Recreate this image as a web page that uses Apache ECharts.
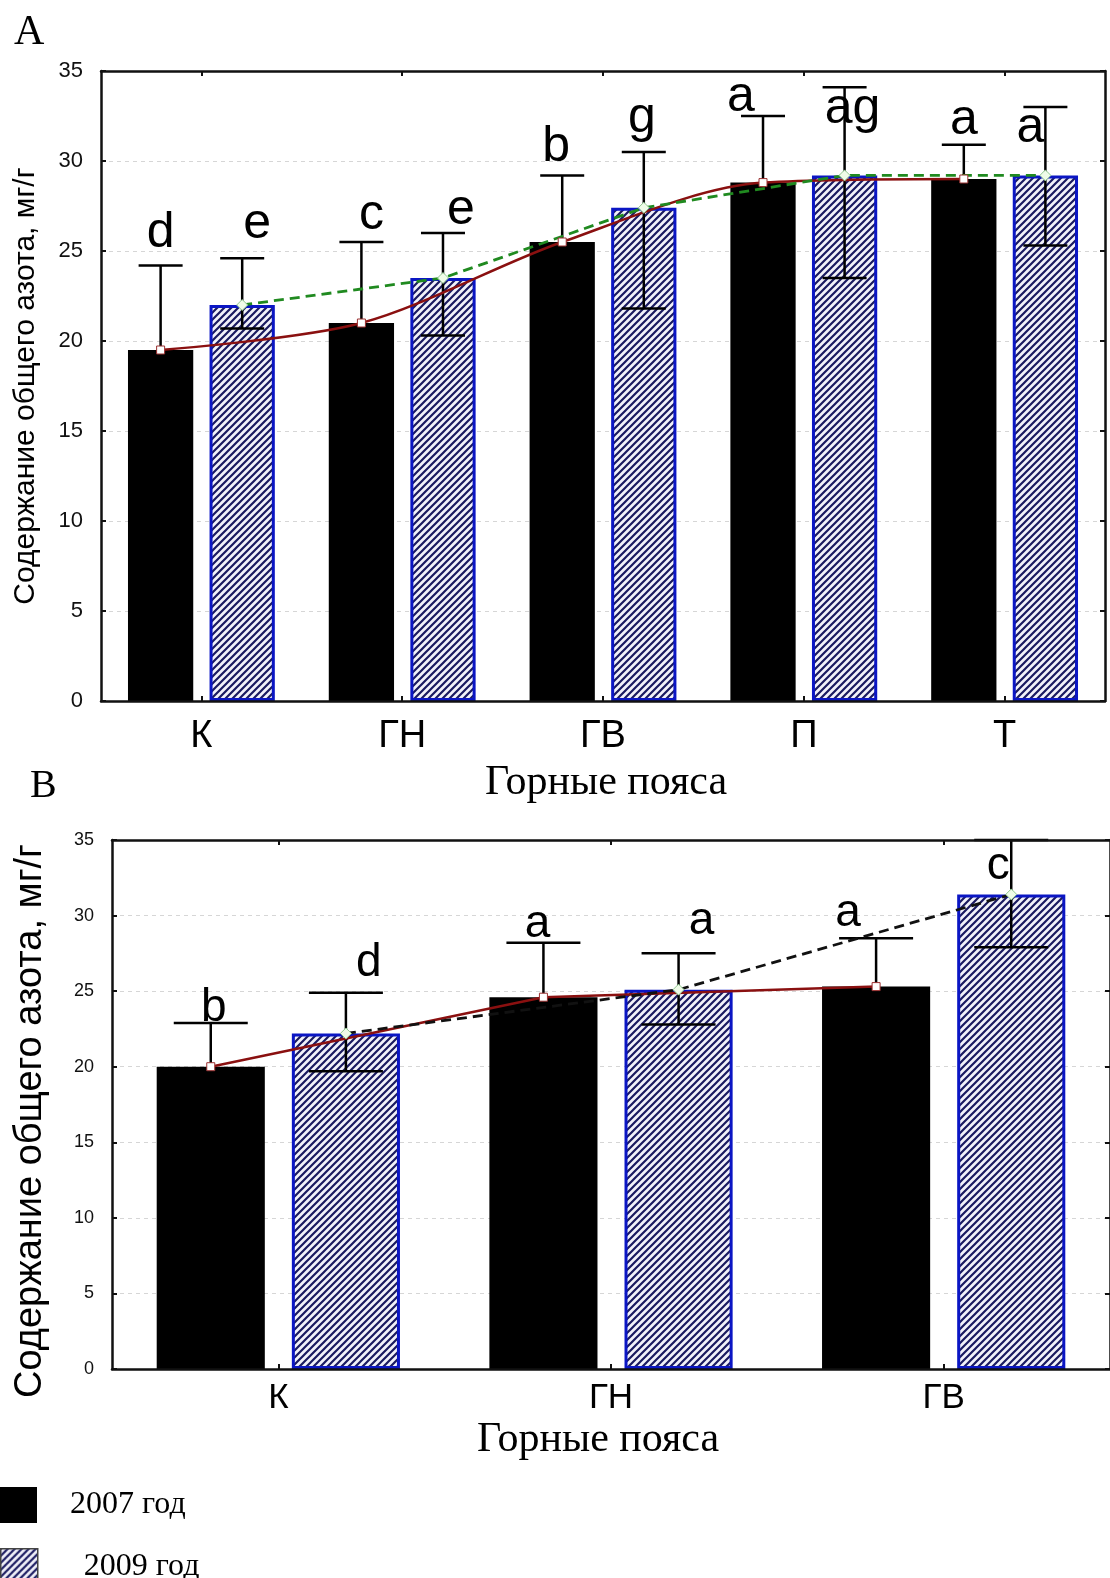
<!DOCTYPE html>
<html>
<head>
<meta charset="utf-8">
<script src="https://cdn.jsdelivr.net/npm/echarts@6/dist/echarts.min.js"></script>
<style>
  html, body { margin: 0; padding: 0; background: #fff; }
  #chart { width: 1110px; height: 1578px; }
</style>
</head>
<body>
<div id="chart"></div>
<script>
// ---- Panel A: five mountain belts ----
const beltsA = ['К', 'ГН', 'ГВ', 'П', 'Т'];
const meanA2007 = [19.5, 21.0, 25.5, 28.8, 29.0];
const upA2007   = [24.2, 25.5, 29.2, 32.5, 30.9];
const meanA2009 = [22.0, 23.5, 27.4, 29.2, 29.2];
const upA2009   = [24.6, 26.0, 30.5, 34.1, 33.0];
const lowA2009  = [20.7, 20.3, 21.8, 23.5, 25.3];
const lettersA2007 = ['d', 'c', 'b', 'a', 'a'];
const lettersA2009 = ['e', 'e', 'g', 'ag', 'a'];

// ---- Panel B: three mountain belts ----
const beltsB = ['К', 'ГН', 'ГВ'];
const meanB2007 = [20.0, 24.6, 25.3];
const upB2007   = [22.9, 28.2, 28.5];
const meanB2009 = [22.2, 25.1, 31.4];
const upB2009   = [24.9, 27.5, 35.0];
const lowB2009  = [19.7, 22.8, 27.9];
const lettersB2007 = ['b', 'a', 'a'];
const lettersB2009 = ['d', 'a', 'c'];

const yTicks = [0, 5, 10, 15, 20, 25, 30, 35];

// ---- layout / styling ----
const BAR_W = 0.325, BAR_GAP = 0.25;
const OFF = (BAR_W + BAR_W * BAR_GAP) / 2;   // bar-centre offset inside a band
// letter placement: [dx px from bar centre, px above the upper cap]
const letterShiftA7 = [[0, 17], [10, 12], [-6, 13], [-22, 4], [0, 10]];
const letterShiftA9 = [[15, 19], [18, 8], [-2, 19], [8, -37], [-15, -36]];
const letterShiftB7 = [[3, 1], [-6, 5], [-28, 11]];
const letterShiftB9 = [[23, 16], [23, 18], [-13, -40]];

function hatchPattern() {
  const s = 7;
  const c = document.createElement('canvas');
  c.width = s; c.height = s;
  const g = c.getContext('2d');
  g.fillStyle = '#f2f2fa';
  g.fillRect(0, 0, s, s);
  g.strokeStyle = '#1a1a60';
  g.lineWidth = 2.2;
  g.beginPath();
  g.moveTo(-1, s + 1); g.lineTo(s + 1, -1);
  g.moveTo(-s / 2 - 1, s / 2 + 1); g.lineTo(s / 2 + 1, -s / 2 - 1);
  g.moveTo(s / 2 - 1, s * 1.5 + 1); g.lineTo(s * 1.5 + 1, s / 2 - 1);
  g.stroke();
  return c;
}
const HATCH = { image: hatchPattern(), repeat: 'repeat' };

const grids = [
  { left: 101, top: 71, width: 1004, height: 630 },
  { left: 112, top: 840, width: 1005, height: 529 }
];

const panels = [
  {
    belts: beltsA, m7: meanA2007, u7: upA2007, m9: meanA2009, u9: upA2009, l9: lowA2009,
    t7: lettersA2007, t9: lettersA2009, s7: letterShiftA7, s9: letterShiftA9,
    tickFont: 22, catFont: 38, catMargin: 17, letterFont: 50, cap: 22,
    dashColor: '#208a20', smooth: 0.3
  },
  {
    belts: beltsB, m7: meanB2007, u7: upB2007, m9: meanB2009, u9: upB2009, l9: lowB2009,
    t7: lettersB2007, t9: lettersB2009, s7: letterShiftB7, s9: letterShiftB9,
    tickFont: 18, catFont: 35, catMargin: 12, letterFont: 46, cap: 37,
    dashColor: '#111', smooth: false
  }
];

const xAxes = [], yAxes = [], series = [];
const frameLine = { show: true, onZero: false, lineStyle: { color: '#111', width: 2.5 } };
const innerTick = { show: true, inside: true, length: 5, lineStyle: { color: '#111', width: 2 } };

panels.forEach((p, gi) => {
  const n = p.belts.length;
  const xb = xAxes.length;
  xAxes.push(
    { gridIndex: gi, type: 'category', data: p.belts, position: 'bottom', z: 10,
      axisLine: frameLine, axisTick: Object.assign({ alignWithLabel: true }, innerTick),
      axisLabel: { fontFamily: 'Liberation Sans', fontSize: p.catFont, color: '#000', margin: p.catMargin },
      splitLine: { show: false } },
    { gridIndex: gi, type: 'category', data: p.belts, position: 'top', z: 10,
      axisLine: frameLine, axisTick: Object.assign({ alignWithLabel: true }, innerTick),
      axisLabel: { show: false }, splitLine: { show: false } },
    { gridIndex: gi, type: 'value', min: -0.5, max: n - 0.5, show: false }
  );
  const yb = yAxes.length;
  const yScale = { min: yTicks[0], max: yTicks[yTicks.length - 1], interval: yTicks[1] - yTicks[0] };
  yAxes.push(
    Object.assign({ gridIndex: gi, type: 'value', position: 'left',
      axisLine: frameLine, axisTick: innerTick,
      axisLabel: { fontFamily: 'Liberation Sans', fontSize: p.tickFont, color: '#111', margin: 18 },
      splitLine: { show: true, lineStyle: { color: '#d6d6d6', type: [4, 4], width: 1 } } }, yScale),
    Object.assign({ gridIndex: gi, type: 'value', position: 'right', z: 10,
      axisLine: frameLine, axisTick: innerTick,
      axisLabel: { show: false }, splitLine: { show: false } }, yScale)
  );

  // bars
  series.push(
    { name: '2007 год', type: 'bar', xAxisIndex: xb, yAxisIndex: yb, data: p.m7,
      barWidth: (BAR_W * 100) + '%', barGap: (BAR_GAP * 100) + '%',
      itemStyle: { color: '#000' }, z: 2 },
    { name: '2009 год', type: 'bar', xAxisIndex: xb, yAxisIndex: yb, data: p.m9,
      barWidth: (BAR_W * 100) + '%', barGap: (BAR_GAP * 100) + '%',
      itemStyle: { color: HATCH, borderColor: '#0b16c4', borderWidth: 3 }, z: 2 }
  );

  // error bars
  const errItem = (withLow) => function (params, api) {
    const x = api.value(0);
    const hi = api.coord([x, api.value(1)]);
    const lo = api.coord([x, api.value(2)]);
    const st = { stroke: '#000', lineWidth: 2.5 };
    const kids = [
      { type: 'line', shape: { x1: hi[0], y1: hi[1], x2: lo[0], y2: lo[1] }, style: st },
      { type: 'line', shape: { x1: hi[0] - p.cap, y1: hi[1], x2: hi[0] + p.cap, y2: hi[1] }, style: st }
    ];
    if (withLow) kids.push({ type: 'line', shape: { x1: lo[0] - p.cap, y1: lo[1], x2: lo[0] + p.cap, y2: lo[1] }, style: st });
    return { type: 'group', children: kids };
  };
  series.push(
    { type: 'custom', xAxisIndex: xb + 2, yAxisIndex: yb, z: 3, silent: true, clip: false,
      renderItem: errItem(false), data: p.m7.map((v, i) => [i - OFF, p.u7[i], v]) },
    { type: 'custom', xAxisIndex: xb + 2, yAxisIndex: yb, z: 3, silent: true, clip: false,
      renderItem: errItem(true), data: p.m9.map((v, i) => [i + OFF, p.u9[i], p.l9[i]]) }
  );

  // trend lines through the means
  series.push(
    { name: 'тренд 2007', type: 'line', xAxisIndex: xb + 2, yAxisIndex: yb, z: 5,
      smooth: p.smooth, data: p.m7.map((v, i) => [i - OFF, v]),
      lineStyle: { color: '#8a1010', width: 2.5 },
      symbol: 'rect', symbolSize: 8, itemStyle: { color: '#fff', borderColor: '#9a3030', borderWidth: 1 } },
    { name: 'тренд 2009', type: 'line', xAxisIndex: xb + 2, yAxisIndex: yb, z: 5,
      data: p.m9.map((v, i) => [i + OFF, v]),
      lineStyle: { color: p.dashColor, width: 2.8, type: [10, 6] },
      symbol: 'diamond', symbolSize: 11, itemStyle: { color: '#effce8', borderColor: '#8fc88f', borderWidth: 1 } }
  );

  // significance letters above the error bars
  const letterItem = (texts, shifts) => function (params, api) {
    const i = params.dataIndex;
    const c = api.coord([api.value(0), api.value(1)]);
    return { type: 'text', x: c[0] + shifts[i][0], y: c[1] - shifts[i][1] + p.letterFont * 0.2,
      style: { text: texts[i], font: p.letterFont + 'px "Liberation Sans"', fill: '#000',
        align: 'center', verticalAlign: 'bottom' } };
  };
  series.push(
    { type: 'custom', xAxisIndex: xb + 2, yAxisIndex: yb, z: 6, silent: true, clip: false,
      renderItem: letterItem(p.t7, p.s7), data: p.u7.map((v, i) => [i - OFF, v]) },
    { type: 'custom', xAxisIndex: xb + 2, yAxisIndex: yb, z: 6, silent: true, clip: false,
      renderItem: letterItem(p.t9, p.s9), data: p.u9.map((v, i) => [i + OFF, v]) }
  );
});

const yTitle = 'Содержание общего азота, мг/г';
const xTitle = 'Горные пояса';
const legendText = { color: '#000', fontFamily: 'Liberation Serif', fontSize: 32 };
const legendBase = { left: 0, orient: 'vertical', padding: 0, itemWidth: 37, itemHeight: 36, icon: 'rect', selectedMode: false };

const option = {
  animation: false,
  backgroundColor: '#fff',
  grid: grids,
  xAxis: xAxes,
  yAxis: yAxes,
  series: series,
  legend: [
    Object.assign({ top: 1487, data: [{ name: '2007 год' }],
      formatter: name => '{a|' + name + '}',
      textStyle: Object.assign({ rich: { a: Object.assign({ padding: [0, 0, 0, 28] }, legendText) } }, legendText) }, legendBase),
    Object.assign({ top: 1548, data: [{ name: '2009 год', itemStyle: { borderColor: '#444', borderWidth: 1.5 } }],
      formatter: name => '{b|' + name + '}',
      textStyle: Object.assign({ rich: { b: Object.assign({ padding: [0, 0, 0, 41] }, legendText) } }, legendText) }, legendBase)
  ],
  graphic: [
    { type: 'text', x: 14, y: 12, style: { text: 'A', font: '42px "Liberation Serif"', fill: '#000' } },
    { type: 'text', x: 30, y: 766, style: { text: 'B', font: '40px "Liberation Serif"', fill: '#000' } },
    { type: 'text', x: 606, y: 783, style: { text: xTitle, font: '42px "Liberation Serif"', fill: '#000', align: 'center', verticalAlign: 'middle' } },
    { type: 'text', x: 598, y: 1440, style: { text: xTitle, font: '42px "Liberation Serif"', fill: '#000', align: 'center', verticalAlign: 'middle' } },
    { type: 'text', x: 26, y: 386, rotation: Math.PI / 2, style: { text: yTitle, font: '30px "Liberation Sans"', fill: '#000', align: 'center', verticalAlign: 'middle' } },
    { type: 'text', x: 31, y: 1121, rotation: Math.PI / 2, style: { text: yTitle, font: '38px "Liberation Sans"', fill: '#000', align: 'center', verticalAlign: 'middle' } }
  ]
};

const chart = echarts.init(document.getElementById('chart'), null, { renderer: 'canvas' });
chart.setOption(option);
</script>
</body>
</html>
